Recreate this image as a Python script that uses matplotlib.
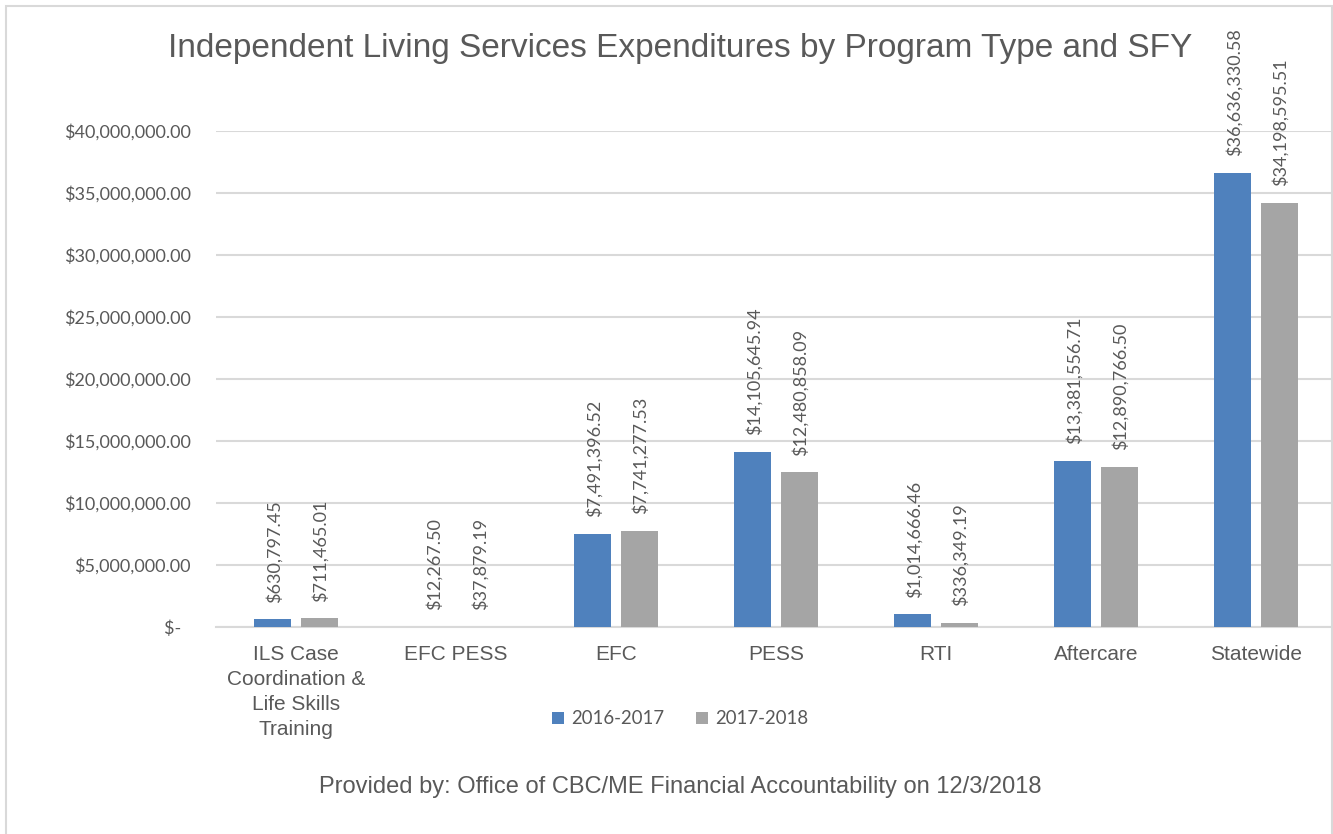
import matplotlib
matplotlib.use("Agg")
import matplotlib.pyplot as plt
from matplotlib.patches import Rectangle
import numpy as np

categories = ["ILS Case\nCoordination &\nLife Skills\nTraining", "EFC PESS", "EFC", "PESS", "RTI", "Aftercare", "Statewide"]
series_names = ["2016-2017", "2017-2018"]
values_2016 = [630797.45, 12267.50, 7491396.52, 14105645.94, 1014666.46, 13381556.71, 36636330.58]
values_2017 = [711465.01, 37879.19, 7741277.53, 12480858.09, 336349.19, 12890766.50, 34198595.51]
yticks = [0, 5e6, 10e6, 15e6, 20e6, 25e6, 30e6, 35e6, 40e6]

BLUE = "#4F81BD"
GRAY = "#A5A5A5"
TXT = "#595959"
NUMFONT = ["Lato", "DejaVu Sans"]
SANS = ["Liberation Sans", "DejaVu Sans"]

W, H = 1333, 834
fig = plt.figure(figsize=(W/100, H/100), dpi=100)
fig.patch.set_facecolor("white")
fig.patches.append(Rectangle((6/W, -10/H), 1326/W, (H - 6 + 10)/H, transform=fig.transFigure,
                             fill=False, edgecolor="#D9D9D9", linewidth=1.5))

ax = fig.add_axes([216/W, 1-627/H, 1120/W, (627-131)/H])
x = np.arange(len(categories))
w = 0.23
off = 0.145
b1 = ax.bar(x - off, values_2016, w, color=BLUE, label=series_names[0], zorder=3)
b2 = ax.bar(x + off, values_2017, w, color=GRAY, label=series_names[1], zorder=3)

for bars in (b1, b2):
    for r in bars:
        v = r.get_height()
        ax.annotate("${:,.2f}".format(v), (r.get_x() + r.get_width()/2, v),
                    xytext=(1, 12), textcoords="offset points", rotation=90,
                    ha="center", va="bottom", fontsize=13, color=TXT, family=NUMFONT,
                    annotation_clip=False)

ax.set_xlim(-0.5, len(categories) - 0.5)
ax.set_ylim(0, 40e6)
ax.set_yticks(yticks)
ax.set_yticklabels(["$-  "] + ["${:,.2f}".format(t) for t in yticks[1:]],
                   family=NUMFONT, fontsize=13, color=TXT)
ax.set_xticks(x)
ax.set_xticklabels(categories, family=SANS, fontsize=15, color=TXT, linespacing=1.4, va="top")
ax.tick_params(axis="both", length=0)
ax.tick_params(axis="y", pad=18)
ax.tick_params(axis="x", pad=13)
ax.grid(axis="y", color="#D9D9D9", linewidth=1.5, zorder=0)
for s in ["top", "right", "left"]:
    ax.spines[s].set_visible(False)
ax.spines["bottom"].set_color("#D9D9D9")
ax.spines["bottom"].set_linewidth(1.5)

fig.text(680/W, 1-48/H, "Independent Living Services Expenditures by Program Type and SFY",
         ha="center", va="center", fontsize=24, color=TXT, family=SANS)

leg = fig.legend(handles=[b1, b2], labels=series_names, loc="center", bbox_to_anchor=(680/W, 1-719/H),
                 ncol=2, frameon=False, prop={"family": NUMFONT, "size": 13.4},
                 handlelength=0.65, handleheight=0.65, columnspacing=1.7, handletextpad=0.4)
for t in leg.get_texts():
    t.set_color(TXT)

fig.text(680/W, 1-787/H, "Provided by: Office of CBC/ME Financial Accountability on 12/3/2018",
         ha="center", va="center", fontsize=17, color=TXT, family=SANS)

fig.savefig("out.png", dpi=100)
